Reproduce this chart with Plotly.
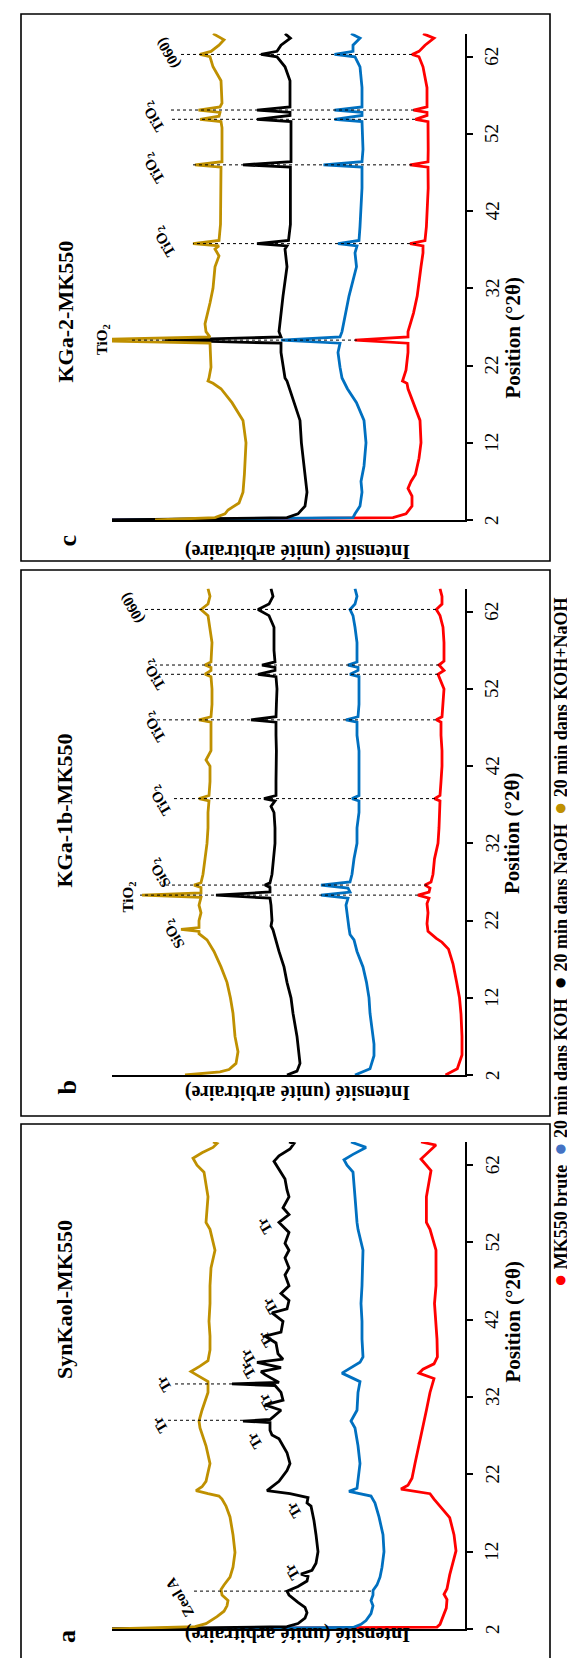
import plotly.graph_objects as go

# ---------------- data ----------------
series_names = ["MK550 brute", "20 min dans KOH", "20 min dans NaOH", "20 min dans KOH+NaOH"]
line_colors = ["#ff0000", "#0070c0", "#000000", "#bf9000"]
legend_dot_colors = ["#ff0000", "#4472c4", "#000000", "#bf9000"]
panel_titles = ["SynKaol-MK550", "KGa-1b-MK550", "KGa-2-MK550"]
panel_letters = ["a", "b", "c"]
tick_values = [2, 12, 22, 32, 42, 52, 62]
tick_labels = ["2", "12", "22", "32", "42", "52", "62"]

# Panel a : SynKaol-MK550
a_red_theta = [2.0, 2.25, 2.6, 3.2, 4.7, 5.8, 6.5, 7.2, 9.0, 12.1, 14.2, 16.4, 17.7, 18.8, 19.5, 19.9, 20.1, 20.6, 21.5, 23.4, 25.7, 28.0, 30.3, 32.6, 34.4, 35.1, 35.6, 36.3, 37.2, 39.5, 41.8, 44.1, 46.4, 51.0, 53.7, 54.6, 57.9, 61.3, 62.8, 64.6, 65.0]
a_red_int = [354, 28, 25, 23, 18.7, 18, 21, 18, 15.3, 9, 11, 15.3, 24, 31, 35, 53, 64, 57, 53, 50, 46, 42, 38.6, 35, 31, 46, 42, 31, 27.6, 28, 29, 30.5, 29, 29, 35, 38.6, 38.6, 34, 44, 29, 44]
a_blue_theta = [2.0, 2.2, 2.6, 3.1, 4.0, 5.0, 5.7, 6.4, 7.0, 7.7, 8.7, 10.0, 12.0, 14.2, 16.5, 18.3, 19.2, 19.5, 19.8, 20.2, 21.1, 23.4, 25.7, 28.0, 28.9, 30.3, 32.6, 34.0, 35.1, 35.8, 36.5, 37.2, 39.5, 41.8, 44.1, 46.4, 51.0, 53.7, 54.6, 57.9, 61.1, 62.0, 62.7, 63.4, 64.3, 65.0]
a_blue_int = [354, 112, 104, 99, 94, 92, 94, 92, 92, 88, 85, 83, 81, 82, 86, 90, 94, 105, 116, 108, 107, 105, 107, 110, 114, 108, 107, 105, 123, 114, 105, 102, 103, 103, 104, 103, 102, 107, 108, 110, 112, 118, 121, 112, 99, 114]
a_black_theta = [2.0, 2.3, 2.7, 3.4, 4.1, 4.8, 5.45, 6.4, 6.9, 7.5, 8.2, 8.8, 9.1, 9.6, 10.5, 12.0, 14.2, 16.0, 17.9, 18.3, 19.0, 19.5, 19.9, 20.4, 21.1, 22.5, 23.4, 24.8, 25.7, 26.6, 27.1, 27.7, 28.7, 28.9, 29.1, 30.3, 31.0, 31.6, 32.6, 33.5, 33.7, 33.9, 34.9, 35.3, 35.8, 36.5, 36.9, 37.6, 39.0, 39.9, 40.4, 41.8, 42.9, 43.4, 44.5, 45.4, 46.4, 47.8, 48.7, 50.0, 51.0, 51.9, 53.3, 54.6, 55.6, 56.5, 57.9, 58.8, 60.2, 61.5, 62.5, 63.2, 64.1, 64.8, 65.0]
a_black_int = [354, 178, 167, 160, 158, 160, 167, 176, 178, 167, 158, 157, 164, 153, 149, 147, 149, 151, 154, 158, 157, 175, 198, 193, 186, 178, 175, 178, 182, 186, 193, 195, 195, 222, 195, 184, 200, 182, 184, 190, 233, 186, 200, 204, 184, 208, 182, 187, 189, 200, 184, 182, 193, 178, 176, 184, 176, 180, 176, 180, 176, 180, 176, 186, 176, 182, 176, 178, 180, 186, 191, 186, 175, 171, 176]
a_gold_theta = [2.0, 2.3, 2.7, 3.6, 4.3, 5.0, 5.7, 6.4, 7.1, 7.7, 8.7, 10.0, 11.9, 14.2, 16.5, 17.9, 18.8, 19.2, 19.5, 19.9, 20.4, 21.1, 23.4, 25.7, 28.0, 28.9, 30.3, 32.6, 34.0, 35.3, 36.0, 36.7, 38.1, 39.9, 41.8, 44.1, 46.4, 48.7, 51.0, 53.7, 54.6, 57.9, 61.1, 62.0, 62.9, 63.6, 64.3, 64.8, 65.0]
a_gold_int = [354, 270, 259, 248, 241, 238, 237, 243, 244, 241, 235, 232, 230, 232, 235, 239, 243, 246, 257, 269, 263, 259, 255, 259, 265, 266, 263, 257, 257, 274, 265, 257, 255, 255, 256, 255, 255, 254, 250, 255, 259, 257, 261, 268, 272, 263, 252, 248, 252]

# Panel b : KGa-1b-MK550
b_red_theta = [2.0, 2.8, 4.6, 7.0, 9.9, 12.0, 14.1, 16.4, 18.3, 19.2, 19.7, 20.2, 20.6, 21.6, 23.0, 24.2, 24.9, 25.3, 25.7, 26.2, 26.6, 27.0, 28.0, 30.0, 32.0, 34.0, 36.0, 37.5, 37.8, 38.2, 40.0, 42.0, 44.0, 46.0, 47.7, 48.0, 48.4, 50.0, 52.0, 53.9, 54.4, 55.1, 55.6, 58.0, 60.0, 61.5, 62.3, 63.0, 64.0, 65.0]
b_red_int = [19.5, 7.7, 3, 3, 4, 5.5, 8.5, 12, 16.5, 23, 28.7, 34, 37, 38, 37, 38, 36, 47, 36, 35, 40, 34, 32, 30.5, 27, 26, 25, 25, 30.5, 25, 24, 23, 23, 24, 24, 28.7, 23, 22.4, 21, 27, 21, 26, 21, 21, 22, 25, 28.7, 23, 23, 25]
b_blue_theta = [2.0, 2.8, 4.5, 6.0, 8.0, 10.0, 12.0, 14.0, 16.0, 18.0, 19.5, 20.2, 21.0, 22.0, 24.0, 24.9, 25.3, 25.7, 26.2, 26.6, 27.0, 28.0, 30.0, 32.0, 34.0, 36.0, 37.5, 37.8, 38.2, 40.0, 42.0, 44.0, 46.0, 47.7, 48.0, 48.4, 50.0, 52.0, 53.6, 53.9, 54.4, 54.8, 55.1, 55.5, 58.0, 60.0, 61.5, 62.3, 63.0, 64.0, 65.0]
b_blue_int = [110, 95, 91, 91, 93, 95, 96, 98.5, 102, 108, 111, 115, 116, 117, 119, 117, 144, 115, 117, 144, 115, 113, 111, 108, 108, 106, 106, 113, 106, 106, 106, 106, 108, 108, 119, 107, 106, 106, 106, 115, 107, 107, 117, 108, 108, 110, 112, 115, 110, 108, 110]
b_black_theta = [2.0, 2.5, 3.5, 5.0, 7.0, 10.0, 12.0, 14.0, 16.0, 18.0, 20.0, 20.8, 21.3, 22.0, 24.0, 24.9, 25.3, 25.7, 26.3, 26.6, 26.9, 28.0, 30.0, 32.0, 34.0, 36.0, 36.8, 37.5, 37.8, 38.2, 40.0, 42.0, 44.0, 46.0, 47.7, 48.0, 48.4, 50.0, 52.0, 53.6, 53.9, 54.4, 54.8, 55.1, 55.5, 57.0, 60.0, 61.5, 62.3, 63.0, 64.0, 65.0]
b_black_int = [178, 168, 165, 166.5, 168, 172, 174, 178, 181, 186, 190, 192, 194, 193, 194, 195, 249, 195, 195, 200, 195, 193, 191.5, 190, 190, 191, 194, 190, 201, 189, 189, 188.6, 188.6, 189, 189, 214, 189, 188.6, 188, 189, 207, 190, 190, 203, 190, 191, 191, 196, 207, 196, 192, 194]
b_gold_theta = [2.0, 2.4, 2.7, 3.5, 5.0, 7.0, 10.0, 12.0, 14.0, 16.0, 18.0, 19.5, 20.3, 20.6, 20.85, 21.1, 22.0, 23.0, 24.0, 25.0, 25.3, 25.6, 26.3, 26.6, 26.9, 28.0, 30.0, 32.0, 34.0, 36.0, 37.5, 37.8, 38.2, 40.0, 42.0, 42.8, 44.0, 46.0, 47.7, 48.0, 48.4, 50.0, 52.0, 53.6, 53.9, 54.4, 54.8, 55.1, 55.5, 58.0, 60.0, 61.5, 62.3, 63.0, 64.0, 65.0]
b_gold_int = [280, 245, 236, 229, 227, 230, 232, 234.6, 238, 244, 251, 258, 266, 266, 284, 266, 266, 264, 266, 264, 323, 264, 264, 271, 264, 262, 260, 258, 257, 257, 256, 266, 256, 255, 255, 259, 254, 254, 254, 266, 254, 253, 253, 254, 260, 254, 254, 260, 254, 253, 255, 257, 264, 257, 255, 257]

# Panel c : KGa-2-MK550
c_red_theta = [2.0, 2.3, 2.8, 3.8, 5.1, 6.1, 7.0, 7.9, 10.0, 12.0, 14.9, 17.2, 19.0, 19.7, 20.0, 21.4, 23.7, 24.9, 25.3, 25.7, 26.4, 28.8, 31.0, 34.8, 36.6, 37.5, 37.8, 38.2, 40.0, 45.0, 47.7, 48.0, 48.4, 50.0, 53.6, 53.9, 54.4, 54.8, 55.1, 55.5, 58.0, 60.7, 62.0, 62.3, 62.7, 63.5, 64.4, 65.0]
c_red_int = [354, 72, 59, 53, 53, 57, 54, 49.6, 46, 44, 45, 51.5, 57, 58, 62.5, 59, 57, 57, 110, 57, 57, 51.5, 47.8, 44, 42, 42, 55, 40, 38.6, 36.8, 37, 55, 37, 36.8, 37, 49.6, 38, 38, 51.5, 38, 38, 42, 46, 53, 46, 40, 31, 42]
c_blue_theta = [2.0, 2.3, 2.8, 3.8, 5.6, 7.0, 9.0, 12.0, 14.9, 17.2, 19.0, 20.0, 20.4, 21.8, 23.7, 24.9, 25.3, 25.7, 26.4, 31.0, 34.8, 36.6, 37.5, 37.8, 38.2, 40.0, 45.0, 47.7, 48.0, 48.4, 50.0, 53.6, 53.9, 54.4, 54.8, 55.1, 55.5, 58.0, 60.7, 62.0, 62.3, 62.7, 63.5, 64.4, 65.0]
c_blue_int = [354, 112, 110, 105, 103, 104, 101, 99, 101, 108.5, 117.6, 121, 123, 125, 127, 125, 184, 125, 123, 116, 108.5, 110, 108, 127, 106, 105, 103, 103, 141.5, 103, 102, 103, 130.5, 103, 103, 130.5, 103, 103, 105, 110, 130.5, 112, 112, 105, 114]
c_black_theta = [2.0, 2.3, 2.8, 3.8, 5.6, 7.9, 12.0, 14.9, 17.2, 19.5, 20.0, 20.4, 21.8, 23.7, 24.9, 25.3, 25.7, 26.4, 31.0, 34.8, 37.1, 37.5, 37.8, 38.2, 40.3, 45.0, 47.7, 48.0, 48.4, 49.6, 53.6, 53.9, 54.4, 54.8, 55.1, 55.5, 58.9, 60.7, 62.0, 62.3, 62.7, 63.5, 64.4, 65.0]
c_black_int = [354, 178, 167, 160, 158, 160, 163.6, 165, 171, 176.5, 178, 180, 182, 184, 184, 300, 184, 186, 182, 178, 180, 178, 208, 176.5, 174.6, 174.6, 174.6, 222, 174, 174, 174, 208, 175, 175, 208, 175, 175, 180, 188, 204, 188, 184, 174.6, 180]
c_gold_theta = [2.0, 2.3, 2.8, 3.3, 4.2, 5.6, 7.9, 12.0, 14.9, 17.2, 19.0, 19.7, 20.0, 20.4, 21.8, 23.7, 24.9, 25.3, 25.7, 26.4, 27.4, 30.1, 32.0, 34.8, 36.2, 37.1, 37.5, 37.8, 38.2, 40.3, 45.0, 47.7, 48.0, 48.4, 49.6, 52.8, 53.6, 53.9, 54.3, 54.8, 55.1, 55.5, 56.0, 58.9, 60.7, 62.0, 62.3, 62.7, 63.5, 64.2, 65.0]
c_gold_int = [310, 250, 240, 237, 226, 222, 220.6, 219, 222, 233, 244, 252, 257, 256, 254, 255, 255, 400, 255, 259, 260, 255, 252, 250, 246, 250, 246, 272, 246, 244.5, 244.5, 244, 270, 243, 243, 243, 244, 265, 246, 245, 266.5, 245, 243, 244, 252, 255, 265, 254, 246, 241, 252]

# reference lines (2theta, intensity from, intensity to)
a_ref_theta = [6.9, 29.0, 33.7]
a_ref_from = [94, 222, 233]
a_ref_to = [274, 300, 292]
b_ref_theta = [25.3, 26.6, 37.8, 48.0, 53.9, 55.1, 62.3]
b_ref_from = [47, 38, 30, 29, 27, 26, 29]
b_ref_to = [325, 303, 293, 315, 310, 310, 320]
c_ref_theta = [25.3, 37.8, 48.0, 53.9, 55.1, 62.3]
c_ref_from = [108, 49, 53, 50, 51, 53]
c_ref_to = [333, 272, 272, 296, 296, 285]

# peak labels
a_lab_text = ["Zeol A", "Tr", "Tr", "Tr", "Tr", "Tr", "Tr", "Tr", "Tr", "Tr", "Tr", "Tr"]
a_lab_theta = [6.1, 9.4, 17.4, 26.4, 28.4, 31.4, 33.7, 35.5, 37.2, 39.5, 43.8, 54.2]
a_lab_int = [285, 173, 171, 210, 305, 199, 301, 217, 217, 199, 195, 200]
b_lab_text = ["SiO<sub>2</sub>", "TiO<sub>2</sub>", "SiO<sub>2</sub>", "TiO<sub>2</sub>", "TiO<sub>2</sub>", "TiO<sub>2</sub>", "(060)"]
b_lab_theta = [20.2, 25.0, 28.1, 37.5, 47.0, 53.8, 62.5]
b_lab_int = [290, 336, 304, 304, 310, 310, 332]
b_lab_upright = [False, True, False, False, False, False, False]
c_lab_text = ["TiO<sub>2</sub>", "TiO<sub>2</sub>", "TiO<sub>2</sub>", "TiO<sub>2</sub>", "(060)"]
c_lab_theta = [25.3, 38.0, 47.5, 54.2, 62.5]
c_lab_int = [362, 300, 311, 311, 296]
c_lab_upright = [True, False, False, False, False]

# ---------------- layout geometry (pixels) ----------------
W, H = 575, 1658
X_L, X_R = 104, 457
INT_MAX = X_R - X_L
FONT = "Liberation Serif"


def px(x):
    return x / W


def py(y):
    return 1 - y / H


panels = [
    dict(ax="", bottom=1621, top=1134, box=(13, 1116, 542, 1662), title_y=1373, letter_y=1637,
         int_y=1640, pos_y=1377,
         curves=[(a_red_theta, a_red_int), (a_blue_theta, a_blue_int), (a_black_theta, a_black_int), (a_gold_theta, a_gold_int)],
         refs=(a_ref_theta, a_ref_from, a_ref_to),
         labels=(a_lab_text, a_lab_theta, a_lab_int, [False] * len(a_lab_text))),
    dict(ax="2", bottom=1067, top=580.6, box=(13, 562, 542, 1108), title_y=803, letter_y=1080,
         int_y=1085, pos_y=826,
         curves=[(b_red_theta, b_red_int), (b_blue_theta, b_blue_int), (b_black_theta, b_black_int), (b_gold_theta, b_gold_int)],
         refs=(b_ref_theta, b_ref_from, b_ref_to),
         labels=(b_lab_text, b_lab_theta, b_lab_int, b_lab_upright)),
    dict(ax="3", bottom=512, top=25.6, box=(13, 6, 542, 553), title_y=231, letter_y=525,
         int_y=530, pos_y=268,
         curves=[(c_red_theta, c_red_int), (c_blue_theta, c_blue_int), (c_black_theta, c_black_int), (c_gold_theta, c_gold_int)],
         refs=(c_ref_theta, c_ref_from, c_ref_to),
         labels=(c_lab_text, c_lab_theta, c_lab_int, c_lab_upright)),
]

fig = go.Figure()
shapes = []
annotations = []
layout = {}

for i, p in enumerate(panels):
    xa = "x" + p["ax"]
    ya = "y" + p["ax"]
    for k, (th, it) in enumerate(p["curves"]):
        fig.add_trace(go.Scatter(x=it, y=th, mode="lines", xaxis=xa, yaxis=ya,
                                 line=dict(color=line_colors[k], width=2.8),
                                 name=series_names[k], showlegend=False, hoverinfo="skip"))
    dom_y = [py(p["bottom"]), py(p["top"])]
    layout["xaxis" + p["ax"]] = dict(domain=[px(X_L), px(X_R)], range=[INT_MAX, 0], anchor=ya,
                                     showline=True, linecolor="black", linewidth=1.5, ticks="",
                                     showticklabels=False, showgrid=False, zeroline=False, fixedrange=True)
    layout["yaxis" + p["ax"]] = dict(domain=dom_y, range=[2, 65], anchor=xa, side="right",
                                     showline=True, linecolor="black", linewidth=1.5,
                                     tickmode="array", tickvals=tick_values,
                                     ticks="outside", ticklen=6, tickwidth=1.5, tickcolor="black",
                                     showticklabels=False,
                                     showgrid=False, zeroline=False, fixedrange=True)
    # inner half of the crossing ticks
    ov = str(4 + i)
    layout["yaxis" + ov] = dict(overlaying=ya, range=[2, 65], anchor=xa, side="right",
                                showline=False, tickmode="array", tickvals=tick_values,
                                ticks="inside", ticklen=6, tickwidth=1.5, tickcolor="black",
                                showticklabels=False, showgrid=False, zeroline=False, fixedrange=True)
    # rotated tick labels of the 2theta axis
    for tv, tl in zip(tick_values, tick_labels):
        annotations.append(dict(text=tl, x=px(484), y=tv, xref="paper", yref=ya, showarrow=False,
                                textangle=-90, xanchor="center", yanchor="middle",
                                font=dict(family=FONT, size=19, color="black")))
    # panel frame
    x0, y0, x1, y1 = p["box"]
    shapes.append(dict(type="rect", xref="paper", yref="paper", x0=px(x0), x1=px(x1), y0=py(y1), y1=py(y0),
                       line=dict(color="black", width=1.6), layer="above"))
    # reference dotted lines
    rt, rf, rto = p["refs"]
    for t, f, e in zip(rt, rf, rto):
        shapes.append(dict(type="line", xref=xa, yref=ya, x0=f, x1=e, y0=t, y1=t,
                           line=dict(color="black", width=1, dash="dot")))
    # peak labels (labels beyond the intensity range are placed in paper units)
    lt, lth, lit, lup = p["labels"]
    for t, th, it, up in zip(lt, lth, lit, lup):
        if it > INT_MAX:
            xref_l, x_l = "paper", px(X_R - it)
        else:
            xref_l, x_l = xa, it
        annotations.append(dict(text="<b>" + t + "</b>", x=x_l, y=th, xref=xref_l, yref=ya,
                                showarrow=False,
                                textangle=-90 if up else -120, xanchor="center", yanchor="middle",
                                font=dict(family=FONT, size=15, color="black")))
    # texts
    annotations.append(dict(text="<b>" + panel_titles[i] + "</b>", x=px(42), y=py(p["title_y"]),
                            xref="paper", yref="paper", showarrow=False, textangle=-90,
                            font=dict(family=FONT, size=22, color="black")))
    annotations.append(dict(text="<b>" + panel_letters[i] + "</b>", x=px(42), y=py(p["letter_y"]),
                            xref="paper", yref="paper", showarrow=False, textangle=-90,
                            font=dict(family=FONT, size=26, color="black")))
    annotations.append(dict(text="<b>Intensité (unité arbitraire)</b>", x=px(290), y=py(p["int_y"]),
                            xref="paper", yref="paper", showarrow=False, textangle=180,
                            font=dict(family=FONT, size=20, color="black")))
    annotations.append(dict(text="<b>Position (°2θ)</b>", x=px(518), y=py(p["pos_y"]),
                            xref="paper", yref="paper", showarrow=False, textangle=-90,
                            font=dict(family=FONT, size=21, color="black")))

legend_text = "  ".join(
    '<span style="color:%s;font-size:22px">●</span> <b>%s</b>' % (c, n)
    for c, n in zip(legend_dot_colors, series_names))
annotations.append(dict(text=legend_text, x=px(551), y=py(934), xref="paper", yref="paper",
                        showarrow=False, textangle=-90, xanchor="center", yanchor="middle",
                        font=dict(family=FONT, size=18, color="black")))

fig.update_layout(width=W, height=H, margin=dict(l=0, r=0, t=0, b=0), autosize=False,
                  paper_bgcolor="white", plot_bgcolor="white", showlegend=False,
                  shapes=shapes, annotations=annotations, **layout)

fig.write_html("out.html")
